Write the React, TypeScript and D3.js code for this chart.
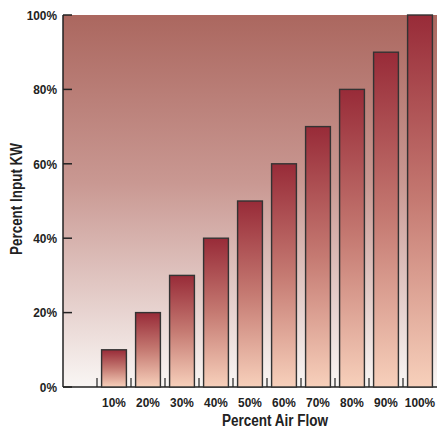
import React from "react";
import * as d3 from "d3";

const categories = ["", "10%", "20%", "30%", "40%", "50%", "60%", "70%", "80%", "90%", "100%"];
const values = [null, 10, 20, 30, 40, 50, 60, 70, 80, 90, 100];
const yTicks = [0, 20, 40, 60, 80, 100];
const xTitle = "Percent Air Flow";
const yTitle = "Percent Input KW";

const W = 437;
const H = 429;
const margin = { left: 63, right: 0, top: 15, bottom: 42 };
const FONT = "'Liberation Sans', Arial, sans-serif";
const SX = 0.88;

export default function App() {
  const x = d3
    .scaleBand<string>()
    .domain(categories)
    .range([margin.left, W - margin.right])
    .paddingInner(0)
    .paddingOuter(0);
  const y = d3.scaleLinear().domain([0, 100]).range([H - margin.bottom, margin.top]);
  const bw = x.bandwidth();
  const barW = bw * 0.73;
  const y0 = y(0);

  return (
    <svg
      width={W}
      height={H}
      style={{ position: "absolute", left: 0, top: 0, display: "block" }}
      fontFamily={FONT}
    >
      <defs>
        <linearGradient id="bg" x1="0" y1="0" x2="0" y2="1">
          <stop offset="0" stopColor="#ab675f" />
          <stop offset="0.45" stopColor="#c99892" />
          <stop offset="1" stopColor="#f9f6f4" />
        </linearGradient>
        <linearGradient id="bar" x1="0" y1="0" x2="0" y2="1">
          <stop offset="0" stopColor="#982b38" />
          <stop offset="0.5" stopColor="#c57a72" />
          <stop offset="1" stopColor="#f7d0bb" />
        </linearGradient>
      </defs>
      <rect
        x={margin.left}
        y={margin.top}
        width={W - margin.right - margin.left}
        height={y0 - margin.top}
        fill="url(#bg)"
      />
      <line x1={margin.left} x2={W} y1={y0} y2={y0} stroke="#222" strokeWidth={1.5} />
      {categories.slice(1).map((c) => (
        <line
          key={"t" + c}
          x1={x(c)!}
          x2={x(c)!}
          y1={y0}
          y2={y0 - 9}
          stroke="#222"
          strokeWidth={1.2}
        />
      ))}
      {categories.map((c, i) =>
        values[i] == null ? null : (
          <rect
            key={c}
            x={x(c)! + (bw - barW) / 2}
            y={y(values[i] as number)}
            width={barW}
            height={y0 - y(values[i] as number)}
            fill="url(#bar)"
            stroke="#333"
            strokeWidth={1.4}
          />
        )
      )}
      <line x1={margin.left} x2={margin.left} y1={margin.top} y2={y0} stroke="#222" strokeWidth={1.5} />
      {yTicks.map((t) => (
        <g key={t}>
          <line x1={margin.left} x2={margin.left + 9} y1={y(t)} y2={y(t)} stroke="#222" strokeWidth={1.5} />
          <g transform={`translate(${margin.left - 6}, ${y(t)}) scale(${SX}, 1)`}>
            <text dy="0.36em" textAnchor="end" fontSize={13.5} fontWeight="bold" fill="#222">
              {t}%
            </text>
          </g>
        </g>
      ))}
      {categories.map((c) =>
        c ? (
          <g key={"l" + c} transform={`translate(${x(c)! + bw / 2}, ${y0 + 19.5}) scale(${SX}, 1)`}>
            <text textAnchor="middle" fontSize={13.5} fontWeight="bold" fill="#222">
              {c}
            </text>
          </g>
        ) : null
      )}
      <text
        x={275}
        y={H - 3}
        textAnchor="middle"
        fontSize={16}
        fontWeight="bold"
        fill="#222"
        textLength={106}
        lengthAdjust="spacingAndGlyphs"
      >
        {xTitle}
      </text>
      <text
        transform={`translate(22, ${(margin.top + y0) / 2 - 2}) rotate(-90)`}
        textAnchor="middle"
        fontSize={16}
        fontWeight="bold"
        fill="#222"
        textLength={112}
        lengthAdjust="spacingAndGlyphs"
      >
        {yTitle}
      </text>
    </svg>
  );
}
